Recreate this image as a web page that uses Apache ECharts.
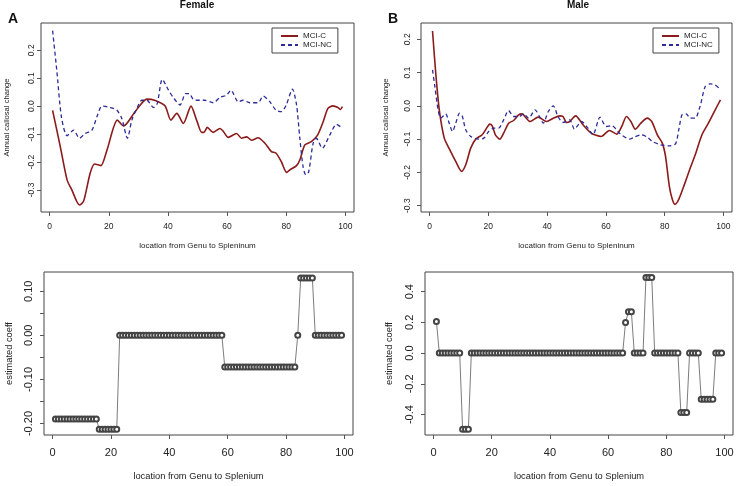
<!DOCTYPE html>
<html><head><meta charset="utf-8">
<script src="https://cdn.jsdelivr.net/npm/echarts@6/dist/echarts.min.js"></script>
<style>html,body{margin:0;padding:0;background:#fff}#c{width:738px;height:486px}</style>
</head><body><div id="c"></div>
<script>
// ---------- DATA ----------
const locTicks = [0, 20, 40, 60, 80, 100];
const topYTicks = [-0.3, -0.2, -0.1, 0.0, 0.1, 0.2];
const femCoefTicks = [-0.20, -0.15, -0.10, -0.05, 0.00, 0.05, 0.10];
const femCoefLabels = [-0.20, -0.10, 0.00, 0.10];
const maleCoefTicks = [-0.4, -0.2, 0.0, 0.2, 0.4];

// Female, MCI-C
const femCx = [1,3.6,5.9,7.5,10.1,11.5,13.7,15.2,17.3,19.4,22.9,25,28.9,32.9,35.7,39,41,43,45.2,47.8,49.7,51.4,52.2,53.3,55.3,57.6,58.7,60.4,63.2,64.9,66.6,68.3,70.5,72.8,75,76.5,78.4,80.1,81.4,83.5,84.6,86.3,88.5,90.6,92.5,94.1,95.8,97.5,98.3,99];
const femCy = [-0.015,-0.145,-0.264,-0.30,-0.354,-0.34,-0.24,-0.207,-0.213,-0.157,-0.05,-0.071,-0.02,0.025,0.02,0.001,-0.05,-0.026,-0.062,0.0,-0.05,-0.094,-0.094,-0.076,-0.094,-0.08,-0.09,-0.112,-0.098,-0.115,-0.11,-0.122,-0.113,-0.133,-0.163,-0.168,-0.2,-0.237,-0.227,-0.213,-0.193,-0.139,-0.127,-0.104,-0.056,-0.008,0.001,-0.005,-0.012,-0.002];
// Female, MCI-NC
const femNx = [1,2.4,4,5.9,8.1,10.1,12,14.3,16,17.7,20.5,22.7,24.4,26.3,27.8,29.5,31.2,32.9,35.1,36.4,38.1,40.2,41.8,44.1,46,47.2,48.6,50.8,52.5,55.3,57.6,59.8,61.3,63.8,65.4,67.7,70.5,72.2,74.5,76.5,78.4,80,82.1,83.5,84.6,85.7,86.6,87.6,89.1,90.2,92.2,94.7,97,98.6];
const femNy = [0.27,0.13,-0.04,-0.106,-0.086,-0.115,-0.098,-0.086,-0.038,0.0,-0.005,-0.014,-0.044,-0.115,-0.05,-0.008,0.021,0.021,-0.005,0.01,0.096,0.057,0.031,0.004,0.045,0.045,0.024,0.021,0.021,0.012,0.031,0.039,0.057,0.015,0.021,0.012,0.012,0.036,0.015,-0.014,-0.02,0.004,0.061,0.004,-0.115,-0.217,-0.246,-0.235,-0.133,-0.115,-0.151,-0.104,-0.065,-0.076];
// Male, MCI-C
const maleCx = [1,2.1,3.3,5,6.6,8.9,10.9,12.3,14,15.7,17.9,19.4,20.5,21.3,22.4,23.9,25.2,26.9,28.6,30.3,31.4,34.2,37,39.8,42.1,44.3,45.4,46.6,47.7,49.7,52.2,55,58.4,61.2,63.7,65.5,67,68.5,70,71.9,74.1,75.6,77.5,79.2,80.3,81.6,82.6,83.5,84.8,86.5,88.7,90.4,92.7,94.9,97.2,99];
const maleCy = [0.225,0.098,-0.012,-0.097,-0.127,-0.167,-0.197,-0.177,-0.127,-0.1,-0.087,-0.067,-0.055,-0.06,-0.087,-0.1,-0.082,-0.052,-0.044,-0.027,-0.024,-0.047,-0.034,-0.047,-0.037,-0.03,-0.032,-0.05,-0.047,-0.03,-0.057,-0.082,-0.092,-0.074,-0.085,-0.06,-0.032,-0.047,-0.07,-0.052,-0.037,-0.047,-0.087,-0.112,-0.152,-0.242,-0.281,-0.296,-0.281,-0.242,-0.187,-0.147,-0.087,-0.052,-0.012,0.018];
// Male, MCI-NC
const maleNx = [1,1.8,2.9,3.8,5.5,6.6,7.8,8.9,10.2,11.1,12.3,14,16.8,18.5,20.1,21.8,23.5,25.2,26.9,28.6,30.6,32,33.7,35.9,37.4,38.7,40.4,42.1,43.7,45.4,47.7,49.3,51.7,53.9,55.6,58,60.1,62.1,64.6,68,69.7,71.9,74.1,75.8,78.6,81.4,83.7,84.8,85.9,87.3,88.7,90.4,92.1,93.8,95.5,97.2,98.5];
const maleNy = [0.108,0.058,-0.012,-0.037,-0.024,-0.05,-0.077,-0.052,-0.022,-0.03,-0.072,-0.092,-0.1,-0.097,-0.077,-0.067,-0.067,-0.042,-0.014,-0.032,-0.032,-0.024,-0.037,-0.012,-0.032,-0.052,-0.017,0.0,-0.032,-0.05,-0.042,-0.07,-0.047,-0.067,-0.087,-0.034,-0.062,-0.06,-0.082,-0.1,-0.094,-0.087,-0.094,-0.107,-0.117,-0.12,-0.114,-0.072,-0.027,-0.024,-0.037,-0.037,0.0,0.058,0.066,0.063,0.053];

// Estimated coefficients, locations 1..99
const femCoef = [
 -0.19,-0.19,-0.19,-0.19,-0.19,-0.19,-0.19,-0.19,-0.19,-0.19,
 -0.19,-0.19,-0.19,-0.19,-0.19,-0.213,-0.213,-0.213,-0.213,-0.213,
 -0.213,-0.213,0,0,0,0,0,0,0,0,
 0,0,0,0,0,0,0,0,0,0,
 0,0,0,0,0,0,0,0,0,0,
 0,0,0,0,0,0,0,0,-0.072,-0.072,
 -0.072,-0.072,-0.072,-0.072,-0.072,-0.072,-0.072,-0.072,-0.072,-0.072,
 -0.072,-0.072,-0.072,-0.072,-0.072,-0.072,-0.072,-0.072,-0.072,-0.072,
 -0.072,-0.072,-0.072,0,0.13,0.13,0.13,0.13,0.13,0,
 0,0,0,0,0,0,0,0,0];
const maleCoef = [
 0.206,0,0,0,0,0,0,0,0,-0.496,
 -0.496,-0.496,0,0,0,0,0,0,0,0,
 0,0,0,0,0,0,0,0,0,0,
 0,0,0,0,0,0,0,0,0,0,
 0,0,0,0,0,0,0,0,0,0,
 0,0,0,0,0,0,0,0,0,0,
 0,0,0,0,0,0.2,0.27,0.27,0,0,
 0,0,0.493,0.493,0.493,0,0,0,0,0,
 0,0,0,0,-0.387,-0.387,-0.387,0,0,0,
 0,-0.3,-0.3,-0.3,-0.3,-0.3,0,0,0];

// ---------- CHART ----------
const FONT = 'Liberation Sans, Arial, Helvetica, sans-serif';
const zip = (xs, ys) => xs.map((x, i) => [x, ys[i]]);
const idx = arr => arr.map((v, i) => [i + 1, v]);
const RED = '#8b1a1a', BLUE = '#2b2b9a', AX = '#555';

const grids = [
  {left: 41, top: 23, width: 313, height: 189},
  {left: 421, top: 23, width: 311, height: 189},
  {left: 44, top: 272, width: 309, height: 163},
  {left: 425, top: 272, width: 308, height: 163}
].map(g => Object.assign(g, {show: true, borderColor: '#444', borderWidth: 1, backgroundColor: 'transparent', containLabel: false}));

function xAx(gi, fs, margin, name, nfs, ngap) {
  return {
    gridIndex: gi, type: 'value', min: -2.92, max: 102.92,
    axisLine: {show: false, onZero: false},
    axisTick: {show: true, length: 4, customValues: locTicks, lineStyle: {color: AX}},
    axisLabel: {customValues: locTicks, fontSize: fs, margin: margin, color: '#222', fontFamily: FONT},
    splitLine: {show: false},
    name: name, nameLocation: 'middle', nameGap: ngap,
    nameTextStyle: {fontSize: nfs, color: '#222', fontFamily: FONT}
  };
}
function yAx(gi, min, max, ticks, labels, fmt, fs, margin, name, nfs, ngap) {
  return {
    gridIndex: gi, type: 'value', min: min, max: max,
    axisLine: {show: false, onZero: false},
    axisTick: {show: true, length: 4, customValues: ticks, lineStyle: {color: AX}},
    axisLabel: {customValues: labels, rotate: 90, fontSize: fs, margin: margin, color: '#222', fontFamily: FONT, formatter: v => fmt(v)},
    splitLine: {show: false},
    name: name, nameLocation: 'middle', nameGap: ngap, nameRotate: 90,
    nameTextStyle: {fontSize: nfs, color: '#222', fontFamily: FONT}
  };
}
const f1 = v => (Math.abs(v) < 1e-9 ? 0 : v).toFixed(1);
const f2 = v => (Math.abs(v) < 1e-9 ? 0 : v).toFixed(2);

function lineS(name, gi, data, color, dashed) {
  return {
    name: name, type: 'line', xAxisIndex: gi, yAxisIndex: gi, data: data,
    symbol: 'none', smooth: 0.25,
    lineStyle: {color: color, width: dashed ? 1.3 : 1.6, type: dashed ? [4, 3] : 'solid'},
    itemStyle: {color: color}, emphasis: {disabled: true}
  };
}
function coefS(gi, data) {
  return {
    type: 'line', xAxisIndex: gi, yAxisIndex: gi, data: data,
    symbol: 'emptyCircle', symbolSize: 5, showAllSymbol: true,
    lineStyle: {color: '#444', width: 0.7},
    itemStyle: {color: '#444', borderWidth: 0.6},
    emphasis: {disabled: true}
  };
}
const legendBase = {
  orient: 'vertical', padding: [4, 6, 4, 8], itemGap: 1, itemWidth: 17, itemHeight: 9,
  borderColor: '#444', borderWidth: 1, borderRadius: 0, backgroundColor: '#fff',
  textStyle: {fontSize: 8, color: '#222', fontFamily: FONT},
  itemStyle: {opacity: 0, color: 'transparent', borderWidth: 0},
  data: ['MCI-C', 'MCI-NC'], selectedMode: false
};

const option = {
  animation: false,
  backgroundColor: '#fff',
  title: [
    {text: 'Female', left: 197, top: 0, textAlign: 'center', padding: 0, textStyle: {fontSize: 10, fontWeight: 'bold', color: '#111', fontFamily: FONT}},
    {text: 'Male', left: 578, top: 0, textAlign: 'center', padding: 0, textStyle: {fontSize: 10, fontWeight: 'bold', color: '#111', fontFamily: FONT}},
    {text: 'A', left: 8, top: 12, padding: 0, textStyle: {fontSize: 14, fontWeight: 'bold', color: '#111', fontFamily: FONT}},
    {text: 'B', left: 388, top: 12, padding: 0, textStyle: {fontSize: 14, fontWeight: 'bold', color: '#111', fontFamily: FONT}}
  ],
  legend: [
    Object.assign({}, legendBase, {left: 272, top: 28}),
    Object.assign({}, legendBase, {left: 653, top: 28})
  ],
  grid: grids,
  xAxis: [
    xAx(0, 8.5, 10, 'location from Genu to Spleninum', 8, 30),
    xAx(1, 8.5, 10, 'location from Genu to Spleninum', 8, 30),
    xAx(2, 11, 12, 'location from Genu to Splenium', 9.3, 37),
    xAx(3, 11, 12, 'location from Genu to Splenium', 9.3, 37)
  ],
  yAxis: [
    yAx(0, -0.379, 0.2975, topYTicks, topYTicks, f1, 8.5, 5, 'Annual callosal change', 7.6, 30),
    yAx(1, -0.319, 0.249, topYTicks, topYTicks, f1, 8.5, 9, 'Annual callosal change', 7.6, 31),
    yAx(2, -0.226, 0.1436, femCoefTicks, femCoefLabels, f2, 11, 10, 'estimated coeff', 9.3, 30),
    yAx(3, -0.533, 0.528, maleCoefTicks, maleCoefTicks, f1, 11, 10, 'estimated coeff', 9.3, 31)
  ],
  series: [
    lineS('MCI-C', 0, zip(femCx, femCy), RED, false),
    lineS('MCI-NC', 0, zip(femNx, femNy), BLUE, true),
    lineS('MCI-C', 1, zip(maleCx, maleCy), RED, false),
    lineS('MCI-NC', 1, zip(maleNx, maleNy), BLUE, true),
    coefS(2, idx(femCoef)),
    coefS(3, idx(maleCoef))
  ]
};
const chart = echarts.init(document.getElementById('c'), null, {renderer: 'canvas'});
chart.setOption(option);
</script>
</body></html>
